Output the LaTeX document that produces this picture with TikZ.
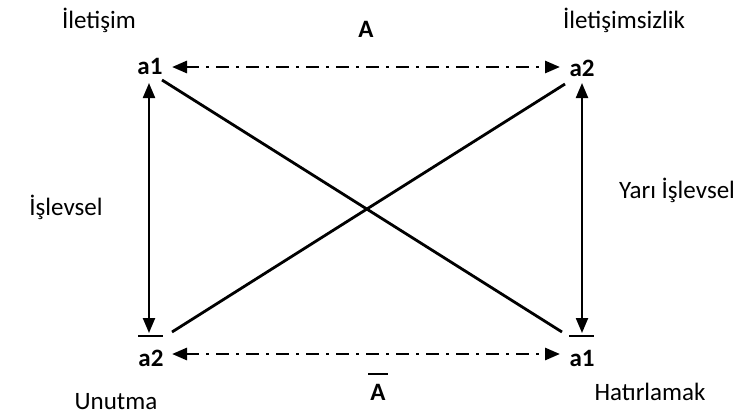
\documentclass[tikz,border=0pt]{standalone}
\usepackage{fontspec}
\setmainfont{Carlito}
\usetikzlibrary{arrows.meta}
\begin{document}
\begin{tikzpicture}[x=1pt,y=-1pt,
  lbl/.style={font=\fontsize{25}{30}\selectfont, inner sep=0pt},
  pt/.style={font=\fontsize{25}{30}\selectfont\bfseries, inner sep=0pt},
  ln/.style={line width=2.8pt},
  dd/.style={line width=2.8pt, dash pattern=on 13pt off 7pt on 3pt off 7pt, {Triangle[length=15pt,width=12pt]}-{Triangle[length=15pt,width=12pt]}},
  va/.style={line width=2.2pt, {Triangle[length=15pt,width=12pt]}-{Triangle[length=15pt,width=12pt]}}
]
\useasboundingbox (0,0) rectangle (747,416);
% corner labels
\node[pt] (tl) at (150,66) {a1};
\node[pt] (tr) at (582,68) {a2};
\node[pt] (bl) at (151,358) {a2};
\node[pt] (br) at (582,358) {a1};
% free ends
\coordinate (tlr) at (172,67);
\coordinate (trl) at (560,67);
\coordinate (blr) at (172,354);
\coordinate (brl) at (560,354);
\coordinate (tld) at (149,83);
\coordinate (blu) at (149,333);
\coordinate (trd) at (582,83);
\coordinate (bru) at (582,333);
\coordinate (d1a) at (162,80);
\coordinate (d1b) at (562,332);
\coordinate (d2a) at (172,332);
\coordinate (d2b) at (565,84);
\coordinate (b1a) at (138,336);
\coordinate (b1b) at (163,336);
\coordinate (b2a) at (569,336);
\coordinate (b2b) at (594,336);
% connectors
\draw[dd] (tlr) -- (trl);
\draw[dd] (blr) -- (brl);
\draw[va] (tld) -- (blu);
\draw[va] (trd) -- (bru);
\draw[ln] (d1a) -- (d1b);
\draw[ln] (d2a) -- (d2b);
\draw[line width=2pt] (b1a) -- (b1b);
\draw[line width=2pt] (b2a) -- (b2b);
% labels
\node[lbl] (iletisim) at (99,20) {İletişim};
\node[pt] (A) at (366,29) {A};
\node[lbl] (iletisimsiz) at (624,20) {İletişimsizlik};
\node[lbl] (islevsel) at (66,207) {İşlevsel};
\node[lbl] (yari) at (677,190) {Yarı İşlevsel};
\node[lbl] (unutma) at (116,402) {Unutma};
\node[pt] (Abar) at (378,392) {A};
\draw[line width=2pt] ([xshift=-2pt,yshift=10pt]Abar.north west) -- ([xshift=2pt,yshift=10pt]Abar.north east);
\node[lbl] (hatir) at (650,392) {Hatırlamak};
\end{tikzpicture}
\end{document}
